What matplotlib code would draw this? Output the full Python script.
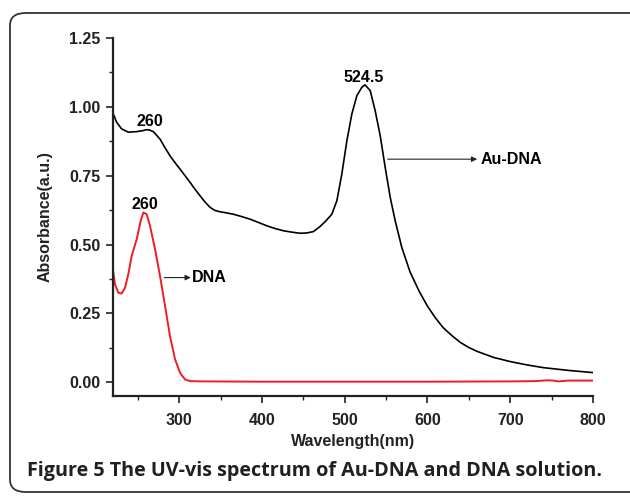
import matplotlib
matplotlib.use('Agg')
import matplotlib.pyplot as plt
from matplotlib.patches import FancyBboxPatch
from matplotlib.ticker import MultipleLocator

# Au-DNA spectrum
au_nm = [220.4, 224.4, 230.4, 238.5, 248.6, 255, 260.7, 264, 268.7, 272, 276.8,
         282, 288.9, 295, 301, 307, 313.1, 319, 325.2, 331, 337.3, 343, 349.4,
         357, 365.5, 375, 385.7, 395, 405.9, 416, 426, 436, 446, 454, 462.2,
         470, 477, 484.4, 490.5, 496.5, 502.6, 508.6, 514.7, 520.7, 524.5, 530.8,
         536.8, 542.9, 548.9, 555, 561, 569, 579, 590, 600, 610, 619, 630, 640,
         650, 660, 680, 700, 720, 740, 770, 800]
au_abs = [0.974, 0.944, 0.920, 0.908, 0.910, 0.913, 0.917, 0.916, 0.910, 0.899,
          0.883, 0.856, 0.822, 0.797, 0.774, 0.750, 0.726, 0.701, 0.677, 0.655,
          0.635, 0.624, 0.619, 0.615, 0.610, 0.602, 0.592, 0.581, 0.568, 0.558,
          0.550, 0.545, 0.541, 0.542, 0.547, 0.565, 0.585, 0.610, 0.659, 0.756,
          0.877, 0.974, 1.041, 1.071, 1.080, 1.059, 0.986, 0.895, 0.780, 0.671,
          0.586, 0.489, 0.400, 0.330, 0.276, 0.232, 0.198, 0.168, 0.144, 0.126,
          0.112, 0.090, 0.075, 0.063, 0.053, 0.043, 0.035]

# DNA spectrum
dna_nm = [219.6, 222.4, 226.4, 230.5, 234.5, 238.5, 242.6, 248.6, 253.5, 256.6,
          260.7, 264.7, 270.8, 276.8, 282.9, 288.9, 295, 301, 307.1, 313.1, 330,
          400, 500, 600, 700, 730, 745, 752, 758, 770, 800]
dna_abs = [0.416, 0.356, 0.325, 0.322, 0.343, 0.392, 0.459, 0.519, 0.586, 0.616,
           0.610, 0.568, 0.483, 0.386, 0.277, 0.167, 0.083, 0.034, 0.010, 0.004,
           0.003, 0.002, 0.002, 0.002, 0.003, 0.004, 0.007, 0.006, 0.003, 0.006,
           0.006]

x_ticks = [300, 400, 500, 600, 700, 800]
y_ticks = [0.00, 0.25, 0.50, 0.75, 1.00, 1.25]

fig = plt.figure(figsize=(6.3, 4.96), dpi=100)

# rounded frame around figure + caption
frame = FancyBboxPatch((10 / 630, 4 / 496), 640 / 630, 479 / 496,
                       boxstyle='round,pad=0,rounding_size=0.025',
                       transform=fig.transFigure, fill=False,
                       edgecolor='#333333', linewidth=1.3, clip_on=False)
fig.patches.append(frame)

ax = fig.add_axes([113 / 630, 1 - 396 / 496, 480 / 630, 358 / 496])
ax.plot(au_nm, au_abs, color='black', lw=1.2)
ax.plot(dna_nm, dna_abs, color='#ee1c25', lw=1.4)

ax.set_xlim(220, 800)
ax.set_ylim(-0.05, 1.25)
ax.set_xticks(x_ticks)
ax.set_yticks(y_ticks)
ax.xaxis.set_minor_locator(MultipleLocator(50))
ax.yaxis.set_minor_locator(MultipleLocator(0.125))
ax.set_yticklabels(['%.2f' % v for v in y_ticks])

for s in ['top', 'right']:
    ax.spines[s].set_visible(False)
for s in ['left', 'bottom']:
    ax.spines[s].set_linewidth(1.6)
    ax.spines[s].set_color('#222222')

tick_font = {'family': 'Liberation Sans', 'weight': 'bold', 'size': 11.5}
ax.tick_params(which='major', length=5, width=1.2, color='#222222', pad=4)
ax.tick_params(axis='x', which='major', pad=7.5)
ax.tick_params(which='minor', length=3, width=1.0, color='#222222')
for lab in ax.get_xticklabels() + ax.get_yticklabels():
    lab.set_fontproperties(tick_font)
    lab.set_color('#222222')

ax.set_xlabel('Wavelength(nm)', fontdict=tick_font, color='#222222', labelpad=4)
ax.set_ylabel('Absorbance(a.u.)', fontdict=tick_font, color='#222222', labelpad=12)

# peak labels
ax.text(265, 0.948, '260', ha='center', va='center', **tick_font)
ax.text(259, 0.647, '260', ha='center', va='center', **tick_font)
ax.text(523.5, 1.108, '524.5', ha='center', va='center', **tick_font)

# arrows to series names
ax.annotate('', xy=(660, 0.81), xytext=(552, 0.81),
            arrowprops=dict(arrowstyle='-|>', color='#222222', lw=0.8,
                            mutation_scale=8, shrinkA=0, shrinkB=0))
ax.text(664, 0.81, 'Au-DNA', ha='left', va='center', **tick_font)
ax.annotate('', xy=(314, 0.38), xytext=(282, 0.38),
            arrowprops=dict(arrowstyle='-|>', color='#222222', lw=0.8,
                            mutation_scale=8, shrinkA=0, shrinkB=0))
ax.text(315.5, 0.38, 'DNA', ha='left', va='center', **tick_font)

fig.text(27 / 630, 1 - 471 / 496,
         'Figure 5 The UV-vis spectrum of Au-DNA and DNA solution.',
         family='Open Sans', weight='bold', size=14.2, color='#231f20',
         ha='left', va='center')

fig.savefig('out.png', dpi=100)
